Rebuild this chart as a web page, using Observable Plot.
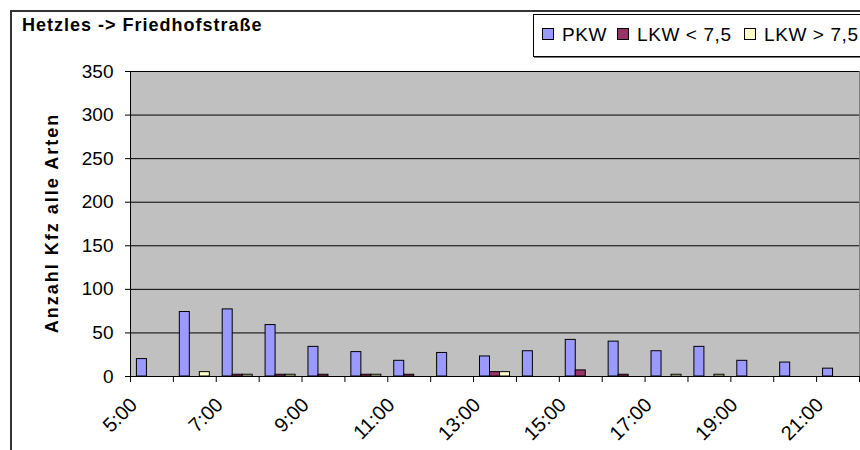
<!DOCTYPE html>
<html><head><meta charset="utf-8">
<script src="https://cdn.jsdelivr.net/npm/d3@7"></script>
<script src="https://cdn.jsdelivr.net/npm/@observablehq/plot@0.6"></script>
<style>
body{margin:0;background:#fff;font-family:"Liberation Sans",Arial,sans-serif;}
#wrap{position:relative;width:860px;height:450px;overflow:hidden;background:#fff;}
#chart{position:absolute;left:0;top:0;}
#border{position:absolute;left:10px;top:10px;width:900px;height:500px;border-left:2px solid #333;border-top:2px solid #333;}
#title{position:absolute;left:22px;top:15px;font-weight:bold;font-size:18px;letter-spacing:1px;color:#000;white-space:nowrap;}
#ylabel{position:absolute;left:52px;top:223px;transform:translate(-50%,-50%) rotate(-90deg);font-weight:bold;font-size:18px;letter-spacing:2px;white-space:nowrap;color:#000;}
#legend{position:absolute;left:533px;top:14px;width:400px;height:41px;border:1px solid #000;background:#fff;box-shadow:1px 1px 0 #777;}
.item{position:absolute;top:10px;font-size:19px;letter-spacing:0.6px;white-space:nowrap;color:#000;line-height:20px;}
.sw{display:inline-block;width:10px;height:10px;border:1px solid #000;margin-right:8px;vertical-align:1px;}
</style></head><body>
<div id="wrap">
<div id="border"></div>
<div id="chart"></div>
<div id="title"></div>
<div id="ylabel"></div>
<div id="legend"></div>
</div>
<script>
const titleText = "Hetzles -> Friedhofstraße";
const yLabelText = "Anzahl Kfz alle Arten";
const hours = [5,6,7,8,9,10,11,12,13,14,15,16,17,18,19,20,21];
const series = ["PKW", "LKW < 7,5", "LKW > 7,5"];
const pkw       = [20,74,77,59,34,28,18,27,23,29,42,40,29,34,18,16,9];
const lkwSmall  = [0,0,2,2,2,2,2,0,5,0,7,2,0,0,0,0,0];
const lkwLarge  = [0,5,2,2,0,2,0,0,5,0,0,0,2,2,0,0,0];
const colors = ["#9999FF", "#993366", "#FFFFCC"];
const yTicks = [0,50,100,150,200,250,300,350];
const labelHours = [5,7,9,11,13,15,17,19,21];

document.getElementById("title").textContent = titleText;
document.getElementById("ylabel").textContent = yLabelText;

const valuesBySeries = [pkw, lkwSmall, lkwLarge];
const rows = [];
hours.forEach((h, hi) => series.forEach((s, si) => rows.push({hour: h, series: s, si, value: valuesBySeries[si][hi]})));

const groupWidth = 0.70;
const barW = groupWidth / series.length;
const boundaries = [...hours.map(h => h - 0.5), hours[hours.length - 1] + 0.5];

const chart = Plot.plot({
  width: 860, height: 450,
  marginLeft: 130, marginRight: 1, marginTop: 71, marginBottom: 74,
  style: {fontFamily: "Liberation Sans, Arial, sans-serif", fontSize: "19px", color: "#000", background: "transparent"},
  x: {domain: [hours[0] - 0.5, hours[hours.length - 1] + 0.5], axis: null},
  y: {domain: [0, 350], axis: null},
  color: {domain: series, range: colors},
  marks: [
    Plot.frame({fill: "#C0C0C0", stroke: "#808080"}),
    Plot.ruleY(yTicks.filter(v => v > 0), {stroke: "#000", strokeWidth: 1}),
    Plot.rectY(rows.filter(d => d.value > 0), {
      x1: d => d.hour - groupWidth / 2 + d.si * barW,
      x2: d => d.hour - groupWidth / 2 + (d.si + 1) * barW,
      y1: 0, y2: "value", fill: "series", stroke: "#000", strokeWidth: 1
    }),
    Plot.ruleX([hours[0] - 0.5], {stroke: "#000"}),
    Plot.ruleY([0], {stroke: "#000"}),
    Plot.axisY({ticks: yTicks, label: null, tickSize: 5, tickPadding: 12, fontSize: 19, tickFormat: d => String(d)}),
    Plot.axisX({ticks: boundaries, label: null, tickSize: 6, tickFormat: () => ""}),
    Plot.axisX({ticks: labelHours, label: null, tickSize: 0, tickPadding: 14, tickRotate: -45, fontSize: 20, dx: -18, dy: 11, tickFormat: h => h + ":00"})
  ]
});
document.getElementById("chart").appendChild(chart);

const legend = document.getElementById("legend");
const legendX = [8, 83, 210];
series.forEach((s, i) => {
  const it = document.createElement("div");
  it.className = "item";
  it.style.left = legendX[i] + "px";
  const sw = document.createElement("span");
  sw.className = "sw";
  sw.style.background = colors[i];
  it.appendChild(sw);
  it.appendChild(document.createTextNode(s));
  legend.appendChild(it);
});
</script>
</body></html>
